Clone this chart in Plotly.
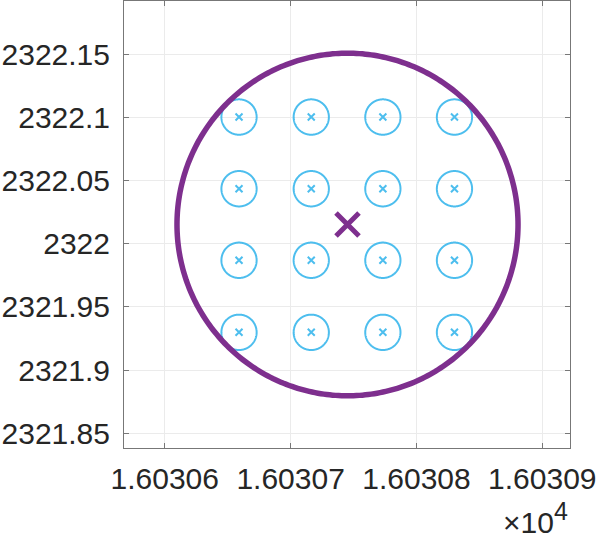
import numpy as np
import plotly.graph_objects as go

# Grid of sensor positions (x in data units, y in data units)
grid_x = [16030.6590, 16030.7164, 16030.7733, 16030.8302]
grid_y = [2322.1002, 2322.0435, 2321.9869, 2321.9299]
small_radius = 0.0140

# Big circle (centre and radius)
center_x = 16030.7452
center_y = 2322.0152
big_radius = 0.1355

# Axis ticks
x_tickvals = [16030.6, 16030.7, 16030.8, 16030.9]
x_ticktext = ["1.60306", "1.60307", "1.60308", "1.60309"]
y_tickvals = [2321.85, 2321.9, 2321.95, 2322.0, 2322.05, 2322.1, 2322.15]
y_ticktext = ["2321.85", "2321.9", "2321.95", "2322", "2322.05", "2322.1", "2322.15"]
x_range = [16030.5676, 16030.922]
y_range = [2321.8384, 2322.192]

BLUE = "#4DBEEE"
PURPLE = "#7E2F8E"
TXT = "#262626"
FONT = "Liberation Sans, Arial, sans-serif"

fig = go.Figure()

theta = np.linspace(0, 2 * np.pi, 361)
cx_list, cy_list = [], []
for yy in grid_y:
    for xx in grid_x:
        cx_list += list(xx + small_radius * np.cos(theta)) + [None]
        cy_list += list(yy + small_radius * np.sin(theta)) + [None]
fig.add_trace(go.Scatter(x=cx_list, y=cy_list, mode="lines",
                         line=dict(color=BLUE, width=2, simplify=False),
                         hoverinfo="skip"))

px, py = [], []
for yy in grid_y:
    for xx in grid_x:
        px.append(xx)
        py.append(yy)
fig.add_trace(go.Scatter(x=px, y=py, mode="markers",
                         marker=dict(symbol="x-thin-open", size=7, color=BLUE,
                                     line=dict(color=BLUE, width=2))))

fig.add_trace(go.Scatter(x=list(center_x + big_radius * np.cos(theta)),
                         y=list(center_y + big_radius * np.sin(theta)),
                         mode="lines",
                         line=dict(color=PURPLE, width=5.5, simplify=False),
                         hoverinfo="skip"))

fig.add_trace(go.Scatter(x=[center_x], y=[center_y], mode="markers",
                         marker=dict(symbol="x-thin-open", size=23, color=PURPLE,
                                     line=dict(color=PURPLE, width=5))))

axis_common = dict(showgrid=True, gridcolor="#ebebeb", gridwidth=1,
                   showline=True, linecolor="#777777", linewidth=1,
                   mirror="ticks", ticks="inside", ticklen=5,
                   tickcolor="#777777", zeroline=False,
                   tickfont=dict(family=FONT, size=30, color=TXT))

fig.update_xaxes(range=x_range, tickmode="array", tickvals=x_tickvals,
                 ticktext=x_ticktext, ticklabelstandoff=4, **axis_common)
fig.update_yaxes(range=y_range, tickmode="array", tickvals=y_tickvals,
                 ticktext=y_ticktext, ticklabelstandoff=7, **axis_common)

fig.add_annotation(text="×10<sup><span style='font-size:25px'>4</span></sup>",
                   xref="paper", yref="paper",
                   x=1.0, y=-0.209, xanchor="right", yanchor="bottom",
                   showarrow=False,
                   font=dict(family=FONT, size=30, color=TXT))

fig.update_layout(width=598, height=541, showlegend=False,
                  plot_bgcolor="white", paper_bgcolor="white",
                  margin=dict(l=124, r=28, t=1, b=93))

fig.write_html("out.html", config={"displayModeBar": False},
               post_script="document.body.style.margin='0';document.body.style.padding='0';")
